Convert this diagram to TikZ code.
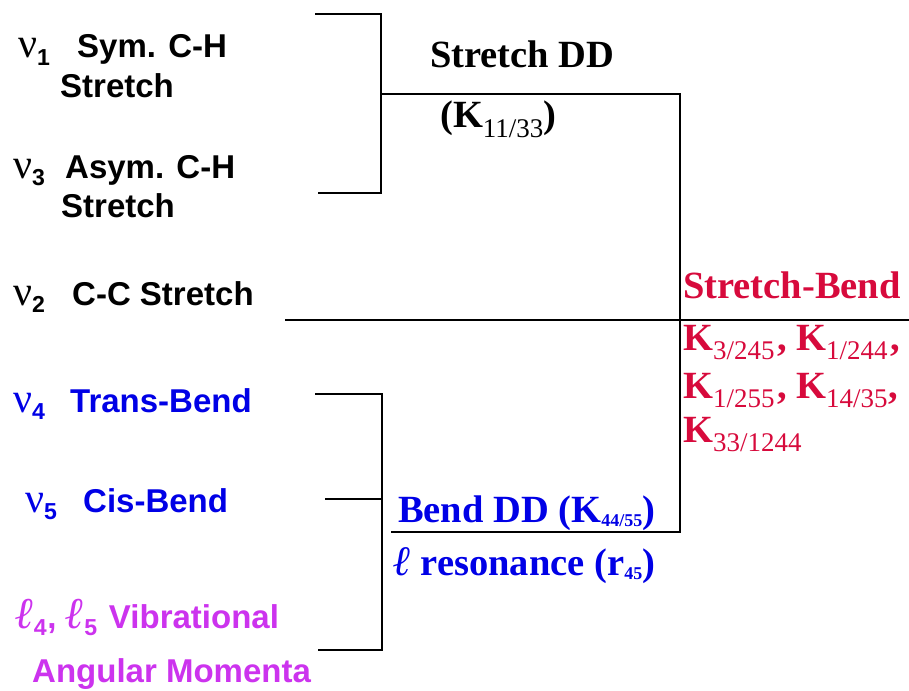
\documentclass[tikz,border=0pt]{standalone}
\usepackage{fontspec}
\setmainfont{Liberation Serif}
\setsansfont{Liberation Sans}
\usetikzlibrary{positioning,calc}
\definecolor{NuBlue}{RGB}{0,0,230}
\definecolor{SbRed}{RGB}{215,10,60}
\definecolor{AmMagenta}{RGB}{204,51,238}
% nu with subscript, in a box of given width
\newcommand{\nuhead}[2]{\makebox[#2][l]{{\rmfamily\mdseries\fontsize{42}{44}\selectfont ν}\textsubscript{#1}}}
\newcommand{\ellsym}{{\rmfamily\bfseries\itshape ℓ}}
\newcommand{\Ksub}[1]{K\textsubscript{\mdseries #1}}
\newcommand{\tinysub}[1]{\raisebox{-4pt}{\fontsize{18}{18}\selectfont #1}}
\tikzset{
  mode/.style={anchor=base west,inner sep=0pt,
               font=\sffamily\bfseries\fontsize{33}{38}\selectfont},
  term/.style={anchor=base west,inner sep=0pt,
               font=\rmfamily\bfseries\fontsize{38.5}{44}\selectfont},
  ln/.style={line width=2pt},
}
\begin{document}
\begin{tikzpicture}[x=1pt,y=-1pt]
  \useasboundingbox (0,0) rectangle (909,690);
  % stretching modes
  \node[mode] (nu1) at (18,58) {\nuhead{1}{59pt}Sym. C-H};
  \node[mode] (str1) at (60,98) {Stretch};
  \node[mode] (nu3) at (13,178) {\nuhead{3}{52pt}Asym. C-H};
  \node[mode] (str3) at (61,217) {Stretch};
  \node[mode] (nu2) at (13,305) {\nuhead{2}{59pt}C-C Stretch};
  % bending modes
  \node[mode,NuBlue] (nu4) at (13,412) {\nuhead{4}{57pt}Trans-Bend};
  \node[mode,NuBlue] (nu5) at (25,512) {\nuhead{5}{58pt}Cis-Bend};
  \node[mode,AmMagenta] (ell) at (15,628) {{\fontsize{44}{44}\selectfont\ellsym}\textsubscript{4}, {\fontsize{44}{44}\selectfont\ellsym}\textsubscript{5}\kern2pt{} Vibrational};
  \node[mode,AmMagenta] (ang) at (32,682) {Angular Momenta};
  % couplings
  \node[term] (sdd) at (430,68) {Stretch DD};
  \node[term] (k1133) at (440,128) {(\Ksub{11/33})};
  \node[term,SbRed] (sb) at (683,298) {Stretch-Bend};
  \node[term,SbRed] (sbk1) at (683,350) {\Ksub{3/245}\kern2pt, \Ksub{1/244}\kern2pt,};
  \node[term,SbRed] (sbk2) at (683,398) {\Ksub{1/255}\kern2pt, \Ksub{14/35},};
  \node[term,SbRed] (sbk3) at (683,442) {\Ksub{33/1244}};
  \node[term,NuBlue] (bdd) at (398,522) {Bend DD (K\tinysub{44/55})};
  \node[term,NuBlue] (lres) at (393,575) {{\fontsize{42}{44}\selectfont\ellsym} resonance (r\tinysub{45})};
  % bracket ends
  \coordinate (sT) at (315,14);
  \coordinate (sB) at (318,193);
  \coordinate (sJ) at (381,94);
  \coordinate (sbC) at (680,532);
  \coordinate (bddL) at (391,532);
  \coordinate (ccL) at (285,320);
  \coordinate (ccR) at (909,320);
  \coordinate (bT) at (315,394);
  \coordinate (bB) at (318,650);
  \coordinate (bV) at (382,650);
  \coordinate (cisT) at (325,499);
  \draw[ln] (sT) -| (sJ) |- (sB);
  \draw[ln] (sJ) -| (sbC) -- (bddL);
  \draw[ln] (ccL) -- (ccR);
  \draw[ln] (bT) -| (bV) -- (bB);
  \draw[ln] (cisT) -- (cisT -| bV);
\end{tikzpicture}
\end{document}
